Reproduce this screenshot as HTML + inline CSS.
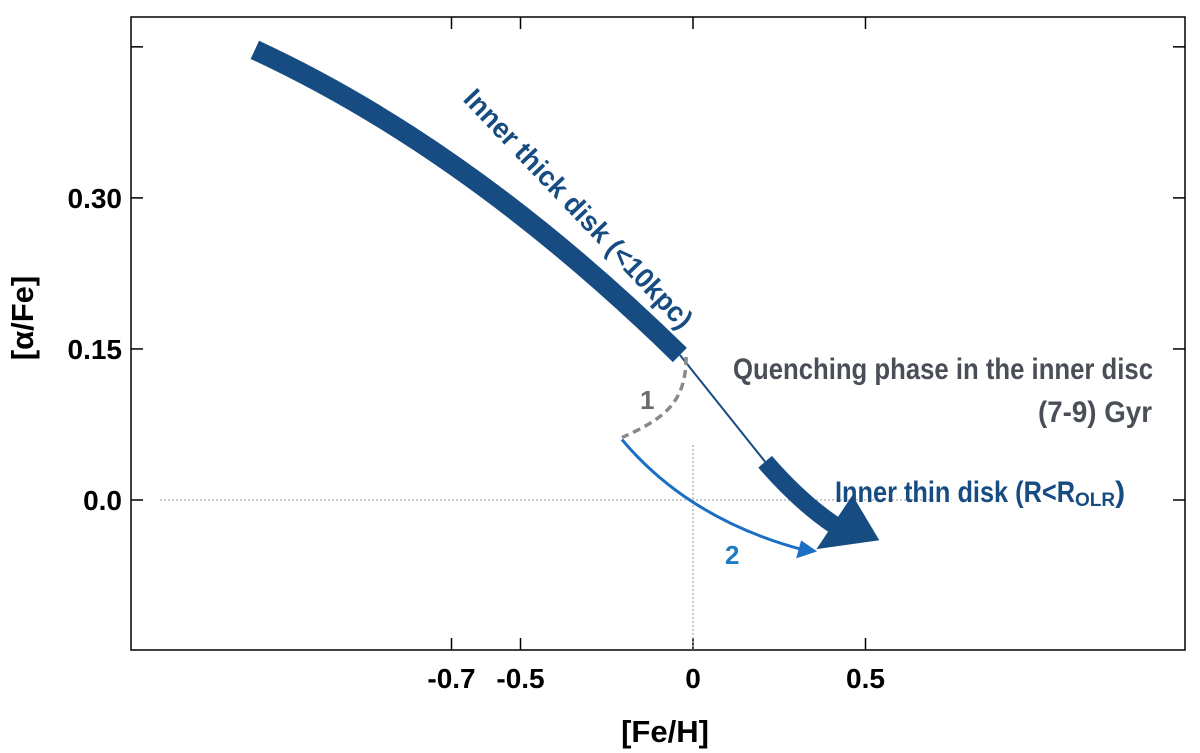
<!DOCTYPE html>
<html><head><meta charset="utf-8"><style>
body{margin:0;background:#fff}
svg{display:block}
text{font-family:"Liberation Sans",sans-serif;font-weight:bold}
</style></head><body>
<svg id="chart" width="1200" height="753" xmlns="http://www.w3.org/2000/svg">
<rect x="131" y="17" width="1054" height="633" fill="none" stroke="#000" stroke-width="1.5"/>
<g id="ticks"></g>
<g id="marks"></g>
<text x="665" y="742" font-size="31" text-anchor="middle">[Fe/H]</text>
<text transform="translate(33,318) rotate(-90)" font-size="31" text-anchor="middle">[α/Fe]</text>
<text transform="translate(462,100) rotate(46.5)" font-size="28" fill="#164c82" textLength="318" lengthAdjust="spacingAndGlyphs">Inner thick disk (&lt;10kpc)</text>
<text x="733" y="379" font-size="30" fill="#4a4f57" textLength="420" lengthAdjust="spacingAndGlyphs">Quenching phase in the inner disc</text>
<text x="1038" y="422" font-size="30" fill="#4a4f57" textLength="114" lengthAdjust="spacingAndGlyphs">(7-9) Gyr</text>
<text x="835" y="502" font-size="30" fill="#164c82">
<tspan textLength="240" lengthAdjust="spacingAndGlyphs">Inner thin disk (R&lt;R</tspan><tspan font-size="19" dy="4">OLR</tspan><tspan dy="-4">)</tspan></text>
<text x="640" y="409" font-size="26" fill="#6b6b6b">1</text>
<text x="725" y="564" font-size="26" fill="#1a7cc4">2</text>
</svg>
<script>
const xTicks=[-0.7,-0.5,0,0.5];
const xTickLabels=["-0.7","-0.5","0","0.5"];
const yTicks=[0.0,0.15,0.30,0.45];
const yTickLabels=["0.0","0.15","0.30",""];
const thickFe=[-1.27,-0.646,-0.038];
const thickAf=[0.447,0.348,0.144];
const thinFe=[-0.038,0.209];
const thinAf=[0.144,0.038];
const thick2Fe=[0.209,0.31,0.41];
const thick2Af=[0.038,-0.002,-0.025];
const headTipFe=0.54, headTipAf=-0.04;
const greyFe=[-0.02,-0.02,-0.09,-0.206];
const greyAf=[0.142,0.095,0.08,0.062];
const blueFe=[-0.206,-0.01,0.325];
const blueAf=[0.06,-0.02,-0.05];
const X=v=>693+345*v, Y=v=>500-1007*v;
const NS="http://www.w3.org/2000/svg";
const ticks=document.getElementById('ticks'), marks=document.getElementById('marks');
function mk(p,tag,a){const e=document.createElementNS(NS,tag);for(const k in a)e.setAttribute(k,a[k]);p.appendChild(e);return e;}
xTicks.forEach((v,i)=>{
 const l1=mk(ticks,'line',{x1:X(v),x2:X(v),y1:650,y2:638,stroke:'#000','stroke-width':1.5});
 
 
 const l2=mk(ticks,'line',{x1:X(v),x2:X(v),y1:17,y2:29,stroke:'#000','stroke-width':1.5});
 
 
 const t=mk(ticks,'text',{x:X(v),y:688,'font-size':28,'text-anchor':'middle'});
 t.textContent=xTickLabels[i];
 
 
});
yTicks.forEach((v,i)=>{
 const l1=mk(ticks,'line',{x1:131,x2:143,y1:Y(v),y2:Y(v),stroke:'#000','stroke-width':1.5});
 
 
 const l2=mk(ticks,'line',{x1:1185,x2:1173,y1:Y(v),y2:Y(v),stroke:'#000','stroke-width':1.5});
 
 
 const t=mk(ticks,'text',{x:122,y:Y(v)+10,'font-size':28,'text-anchor':'end'});
 t.textContent=yTickLabels[i];
 
 
});
const h=mk(marks,'line',{x1:160,x2:935,y1:Y(0),y2:Y(0),stroke:'#999','stroke-width':1,'stroke-dasharray':'2,2'});


const vl=mk(marks,'line',{x1:X(0),x2:X(0),y1:445,y2:650,stroke:'#999','stroke-width':1,'stroke-dasharray':'2,2'});


const q=(fe,af)=>`M${X(fe[0])},${Y(af[0])} Q${X(fe[1])},${Y(af[1])} ${X(fe[2])},${Y(af[2])}`;
const p1=mk(marks,'path',{d:q(thickFe,thickAf),stroke:'#164c82','stroke-width':20,fill:'none'});


const p2=mk(marks,'line',{x1:X(thinFe[0]),y1:Y(thinAf[0]),x2:X(thinFe[1]),y2:Y(thinAf[1]),stroke:'#164c82','stroke-width':2});


const p3=mk(marks,'path',{d:q(thick2Fe,thick2Af),stroke:'#164c82','stroke-width':18,fill:'none'});


const ex=X(thick2Fe[2]),ey=Y(thick2Af[2]),tx=X(headTipFe),ty=Y(headTipAf);
const p4=mk(marks,'polygon',{points:`${ex-18},${ey+24} ${tx},${ty} ${ex+18},${ey-30}`,fill:'#164c82'});


const g=mk(marks,'path',{d:`M${X(greyFe[0])},${Y(greyAf[0])} C${X(greyFe[1])},${Y(greyAf[1])} ${X(greyFe[2])},${Y(greyAf[2])} ${X(greyFe[3])},${Y(greyAf[3])}`,stroke:'#8a8a8a','stroke-width':3.5,fill:'none','stroke-dasharray':'8,5'});


const b=mk(marks,'path',{d:q(blueFe,blueAf),stroke:'#1a6fc4','stroke-width':3,fill:'none'});


const bx=X(blueFe[2]),by=Y(blueAf[2]);
const bh=mk(marks,'polygon',{points:`${bx+12},${by+1} ${bx-9},${by+8} ${bx-4},${by-10}`,fill:'#1a6fc4'});


</script>
</body></html>
